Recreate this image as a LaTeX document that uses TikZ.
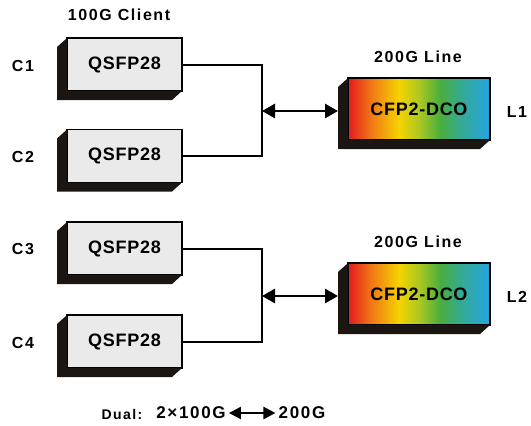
\documentclass[tikz,border=0pt]{standalone}
\usepackage{fontspec}
\setmainfont{Liberation Sans}
\newfontfamily\lblfont{Liberation Sans}[LetterSpace=10]
\newfontfamily\boxfont{Liberation Sans}[LetterSpace=4]
\usetikzlibrary{arrows.meta,positioning}

\definecolor{boxgray}{RGB}{234,234,234}
\definecolor{modshadow}{RGB}{28,22,18}
\definecolor{spred}{RGB}{228,36,30}
\definecolor{sporange}{RGB}{240,118,22}
\definecolor{spyellow}{RGB}{246,212,0}
\definecolor{spyelgreen}{RGB}{172,200,34}
\definecolor{spgreen}{RGB}{72,174,62}
\definecolor{spteal}{RGB}{52,170,150}
\definecolor{spblue}{RGB}{36,164,224}
\pgfdeclarehorizontalshading{spectrum}{100bp}{color(0bp)=(spred); color(26bp)=(spred);
  color(33bp)=(sporange); color(43bp)=(spyellow); color(50bp)=(spyelgreen);
  color(57.5bp)=(spgreen); color(65bp)=(spteal); color(75bp)=(spblue); color(100bp)=(spblue)}

\begin{document}
\begin{tikzpicture}[x=1pt,y=-1pt,
    lbl/.style={inner sep=0pt,font=\lblfont\bfseries\fontsize{16}{16}\selectfont},
    qsfp/.style={draw,line width=1.2pt,fill=boxgray,minimum width=115,minimum height=53,
      inner sep=0pt,outer sep=0pt,font=\boxfont\bfseries\fontsize{18}{18}\selectfont},
    cfp/.style={qsfp,shading=spectrum,minimum width=142,minimum height=62},
    wire/.style={line width=2pt},
    link/.style={line width=2.8pt,{Triangle[length=13pt,width=14pt]}-{Triangle[length=13pt,width=14pt]}}]
    \useasboundingbox (0,0) rectangle (531,426);
    % black extrusion down-left of a module
    \def\extrude#1{
    \fill[modshadow] (#1.north west) -- ++(-10,9) |- ([shift={(-10,9)}]#1.south east)
      -- (#1.south east) -- (#1.south west) -- cycle;
    }
    \node[lbl] (client) at (119,15) {100G Client};
    \foreach \n/\y in {1/64.5,2/156,3/248.5,4/341.5}
    {
    \node[qsfp] (c\n) at (124.5,\y) {QSFP28};
    \extrude{c\n}
    \node[lbl] (cl\n) at (23,\y+1) {C\n};
    }
    \foreach \n/\y in {1/109,2/294}
    {
    \node[cfp] (l\n) at (419,\y) {CFP2-DCO};
    \extrude{l\n}
    \node[lbl] (line\n) at (418,\y-52) {200G Line};
    \node[lbl] (ll\n) at (517,\y+3) {L\n};
    \coordinate (e\n) at ([xshift=-10]l\n.west);
    }
    \coordinate (j1) at (262,111);
    \coordinate (j2) at (262,296);
    \draw[wire] (c1.east) -| (j1) |- (c2.east);
    \draw[wire] (c3.east) -| (j2) |- (c4.east);
    \draw[link] (j1) -- (j1 -| e1);
    \draw[link] (j2) -- (j2 -| e2);
    % legend
    \node[lbl,font=\lblfont\bfseries\fontsize{14}{14}\selectfont] (dual) at (122,414) {Dual:};
    \node[lbl,font=\lblfont\bfseries\fontsize{17}{17}\selectfont] (two) at (191,413) {2×100G};
    \node[lbl,font=\lblfont\bfseries\fontsize{17}{17}\selectfont] (one) at (302,413) {200G};
    \draw[line width=2.2pt,{Triangle[length=12pt,width=12pt]}-{Triangle[length=12pt,width=12pt]}]
      ([xshift=3]two.east) -- ([xshift=-3]one.west);
\end{tikzpicture}
\end{document}
